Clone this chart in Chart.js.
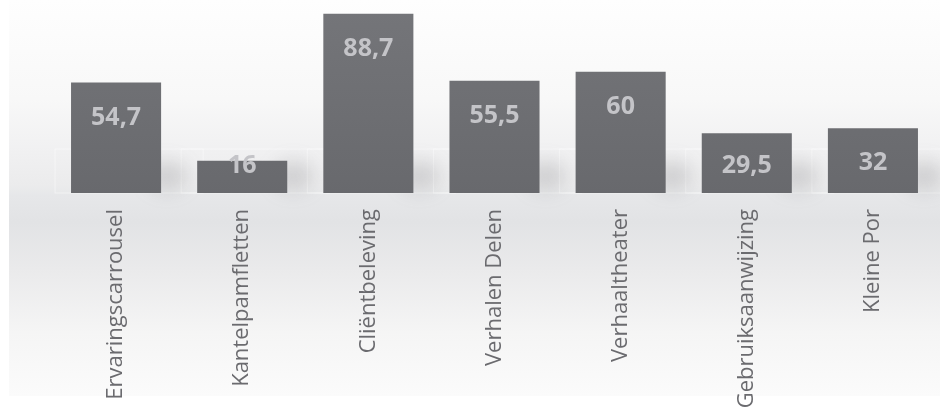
<!DOCTYPE html>
<html>
<head>
<meta charset="utf-8">
<script src="https://cdn.jsdelivr.net/npm/chart.js@4/dist/chart.umd.min.js"></script>
<style>
  html, body { margin: 0; padding: 0; background: #ffffff; }
  #wrap { width: 940px; height: 410px; position: relative; }
</style>
</head>
<body>
<div id="wrap"><canvas id="c" width="940" height="410"></canvas></div>
<script>
const categories = ["Ervaringscarrousel", "Kantelpamfletten", "Cliëntbeleving", "Verhalen Delen", "Verhaaltheater", "Gebruiksaanwijzing", "Kleine Por"];
const values = [54.7, 16, 88.7, 55.5, 60, 29.5, 32];
const yMin = 0;
const yMax = 90;

const bgPlugin = {
  id: 'bg',
  beforeDraw(chart) {
    const ctx = chart.ctx;
    ctx.save();
    ctx.fillStyle = '#ffffff';
    ctx.fillRect(0, 0, chart.width, chart.height);
    const g = ctx.createLinearGradient(0, 0, 0, 396);
    g.addColorStop(0.00, '#fefefe');
    g.addColorStop(0.25, '#f8f8f8');
    g.addColorStop(0.37, '#f1f1f2');
    g.addColorStop(0.47, '#ebebec');
    g.addColorStop(0.495, '#e6e7e9');
    g.addColorStop(0.56, '#e2e3e5');
    g.addColorStop(0.68, '#eaeaeb');
    g.addColorStop(0.84, '#f5f5f5');
    g.addColorStop(1.00, '#fbfbfb');
    ctx.fillStyle = g;
    ctx.fillRect(9, 0, chart.width - 9, 396);
    ctx.restore();
  },
  beforeDatasetsDraw(chart) {
    const ctx = chart.ctx;
    const meta = chart.getDatasetMeta(0);
    ctx.save();
    // faint floor cells
    meta.data.forEach((bar) => {
      const w = bar.width;
      ctx.strokeStyle = 'rgba(255,255,255,0.45)';
      ctx.lineWidth = 1;
      ctx.strokeRect(bar.x - w / 2 - 16, bar.base - 44, w + 58, 44);
    });
    // soft shadows
    ctx.filter = 'blur(9px)';
    meta.data.forEach((bar) => {
      const w = bar.width;
      const h = Math.min(bar.base - bar.y, 30);
      ctx.fillStyle = 'rgba(110,110,115,0.22)';
      ctx.beginPath();
      ctx.ellipse(bar.x + w / 2 + 6, bar.base - h / 2 - 2, 20, h / 2, 0, 0, Math.PI * 2);
      ctx.fill();
    });
    ctx.filter = 'none';
    ctx.restore();
  }
};

const labelPlugin = {
  id: 'vlabels',
  afterDatasetsDraw(chart) {
    const ctx = chart.ctx;
    const meta = chart.getDatasetMeta(0);
    ctx.save();
    ctx.font = 'bold 25px "Open Sans"';
    ctx.fillStyle = '#c4c4c8';
    ctx.textAlign = 'center';
    ctx.textBaseline = 'middle';
    meta.data.forEach((bar, i) => {
      const txt = String(values[i]).replace('.', ',');
      const y = Math.min(bar.y + 35, bar.base - 27);
      ctx.fillText(txt, bar.x, y);
    });
    ctx.restore();
  }
};

const ctx = document.getElementById('c').getContext('2d');
new Chart(ctx, {
  type: 'bar',
  data: {
    labels: categories,
    datasets: [{
      data: values,
      backgroundColor: (c) => {
        const area = c.chart.chartArea;
        if (!area) return '#6e6f73';
        const g = c.chart.ctx.createLinearGradient(0, area.top, 0, area.bottom);
        g.addColorStop(0, '#747579');
        g.addColorStop(1, '#68696d');
        return g;
      },
      borderWidth: 0,
      barPercentage: 0.714,
      categoryPercentage: 1.0
    }]
  },
  options: {
    responsive: false,
    animation: false,
    devicePixelRatio: 1,
    layout: { padding: { top: 11, left: 53, right: 4, bottom: 0 } },
    plugins: { legend: { display: false }, tooltip: { enabled: false } },
    scales: {
      x: {
        grid: { display: false, drawTicks: false },
        border: { display: false },
        ticks: {
          minRotation: 90,
          maxRotation: 90,
          autoSkip: false,
          padding: 16,
          color: '#6b6b6f',
          font: { family: '"Open Sans"', size: 22 }
        },
        afterFit(scale) { scale.height = 217; }
      },
      y: {
        display: false,
        min: yMin,
        max: yMax
      }
    }
  },
  plugins: [bgPlugin, labelPlugin]
});
</script>
</body>
</html>
